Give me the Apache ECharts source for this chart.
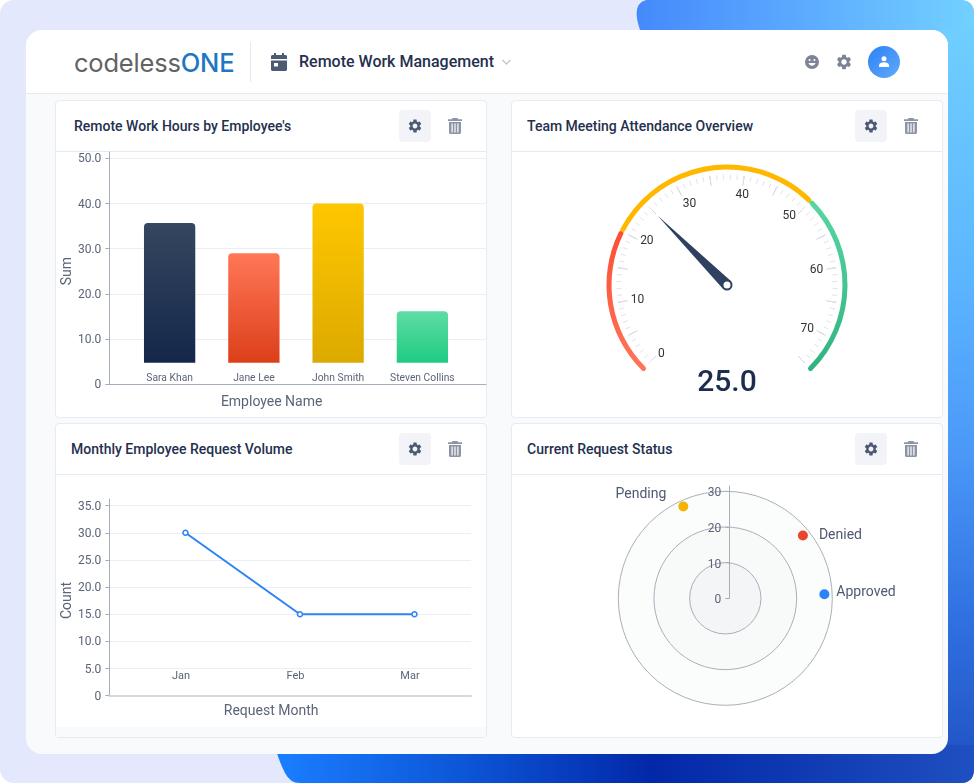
<!DOCTYPE html>
<html lang="en">
<head>
<meta charset="utf-8" />
<title>Remote Work Management</title>
<script src="https://cdn.jsdelivr.net/npm/echarts@6/dist/echarts.min.js"></script>
<style>
html,body{margin:0;padding:0;background:#fff;width:974px;height:783px;overflow:hidden;font-family:Roboto,sans-serif}
#bg{position:absolute;left:0;top:0;width:974px;height:783px;background:#e3e8fd;border-radius:14px}
#blob{position:absolute;left:0;top:0;width:974px;height:783px;
	clip-path:path('M646 0 L960 0 Q974 0 974 14 L974 769 Q974 783 960 783 L300 783 Q290 783 285 773 Q279 761 276 750 L500 400 L640 30 Q631 4 646 0 Z')}
#blobSide{position:absolute;left:930px;top:0;width:44px;height:783px;background:linear-gradient(180deg,#72d1ff 0%,#5cb6ff 35%,#4a98f8 58%,#2f6fe0 80%,#1f4fc0 100%)}
#blobTop{position:absolute;left:630px;top:0;width:344px;height:30px;background:linear-gradient(90deg,#4488fb 0%,#5eaeff 55%,#72d1ff 100%)}
#blobBottom{position:absolute;left:0;top:745px;width:974px;height:38px;background:linear-gradient(90deg,#1a7dff 29%,#0c55d6 48%,#0228a8 67%,#1f4fc0 100%)}
#card{position:absolute;left:26px;top:30px;width:922px;height:724px;background:#f9fafc;border-radius:16px;overflow:hidden}
#topbar{position:absolute;left:26px;top:30px;width:922px;height:63px;background:#fff;border-bottom:1px solid #e8eaf1;border-radius:16px 16px 0 0}
#logo{position:absolute;left:74px;top:46px;font-family:Inter,sans-serif;font-weight:400;font-size:25.5px;line-height:34px;color:#636363;letter-spacing:-.2px}
#logo b{font-weight:500;color:#1f77c3}
#divider{position:absolute;left:250px;top:42px;width:1px;height:40px;background:#e8eaf1}
#appTitle{position:absolute;left:299px;top:52px;font-size:16px;line-height:20px;font-weight:500;color:#24304e}
#avatar{position:absolute;left:868px;top:46px;width:32px;height:32px;border-radius:50%;background:linear-gradient(135deg,#2a82f6,#62a9fb)}
.panel{position:absolute;width:430px;background:#fff;border:1px solid #e8eaf1;border-radius:4px}
.panelHead{position:absolute;left:0;top:0;width:430px;height:50px;border-bottom:1px solid #e8eaf1}
.panelTitle{position:absolute;top:16px;font-size:14px;line-height:18px;font-weight:500;color:#24304e;white-space:nowrap}
.btn{position:absolute;left:343px;top:9px;width:32px;height:32px;background:#f3f4f8;border-radius:4px}
.icon{position:absolute}
.chart{position:absolute;left:-1px;top:-1px;width:432px;height:318px}
#footband{position:absolute;left:0;bottom:0;width:430px;height:10px;background:#f9fafc}
</style>
</head>
<body>
<svg width="0" height="0" style="position:absolute">
	<symbol id="gear" viewBox="0 0 24 24"><path d="M19.14 12.94c.04-.3.06-.61.06-.94 0-.32-.02-.64-.07-.94l2.03-1.58a.49.49 0 0 0 .12-.61l-1.92-3.32a.488.488 0 0 0-.59-.22l-2.39.96c-.5-.38-1.03-.7-1.62-.94l-.36-2.54a.484.484 0 0 0-.48-.41h-3.84c-.24 0-.43.17-.47.41l-.36 2.54c-.59.24-1.13.57-1.62.94l-2.39-.96c-.22-.08-.47 0-.59.22L2.74 8.87c-.12.21-.08.47.12.61l2.03 1.58c-.05.3-.09.63-.09.94s.02.64.07.94l-2.03 1.58a.49.49 0 0 0-.12.61l1.92 3.32c.12.22.37.29.59.22l2.39-.96c.5.38 1.03.7 1.62.94l.36 2.54c.05.24.24.41.48.41h3.84c.24 0 .44-.17.47-.41l.36-2.54c.59-.24 1.13-.56 1.62-.94l2.39.96c.22.08.47 0 .59-.22l1.92-3.32c.12-.22.07-.47-.12-.61l-2.01-1.58zM12 15.6c-1.98 0-3.6-1.62-3.6-3.6s1.62-3.6 3.6-3.6 3.6 1.62 3.6 3.6-1.62 3.6-3.6 3.6z"/></symbol>
	<symbol id="trash" viewBox="0 0 14 16"><path d="M4.5 0h5l.6 1.2H14v1.7H0V1.2h3.9zM1 4h12v10.5c0 .8-.7 1.5-1.5 1.5h-9C1.700 16 1 15.300 1 14.500zM3.500 5.500v9h1.200v-9zM6.400 5.500v9h1.200v-9zM9.300 5.500v9h1.200v-9z"/></symbol>
	<symbol id="calendar" viewBox="0 0 16 18"><path d="M3 0h2v2h6V0h2v2h1.500C15.300 2 16 2.700 16 3.500V6H0V3.500C0 2.700.7 2 1.500 2H3zM0 7.500h16v9c0 .8-.7 1.500-1.500 1.500h-13C.7 18 0 17.300 0 16.500zM3 10v3.500h4V10z"/></symbol>
	<symbol id="smile" viewBox="0 0 14 14"><path fill-rule="evenodd" d="M7 0a7 7 0 1 1 0 14A7 7 0 0 1 7 0zM4.600 3.900a1 1 0 1 0 0 2.100 1 1 0 0 0 0-2.100zM9.400 3.900a1 1 0 1 0 0 2.100 1 1 0 0 0 0-2.100zM3.500 8c.5 1.700 1.900 2.800 3.500 2.800S10 9.700 10.500 8z"/></symbol>
	<symbol id="user" viewBox="0 0 12 13"><circle cx="6" cy="3.200" r="3"/><path d="M0 13v-1.800C0 9 2.700 7.500 6 7.500s6 1.500 6 3.700V13z"/></symbol>
</svg>

<div id="bg"></div>
<div id="blob"><div id="blobSide"></div><div id="blobTop"></div><div id="blobBottom"></div></div>
<div id="card"></div>
<div id="topbar"></div>
<div id="logo">codeless<b>ONE</b></div>
<div id="divider"></div>
<svg class="icon" style="left:271px;top:53px;fill:#4d5a75" width="16" height="18"><use href="#calendar"/></svg>
<div id="appTitle">Remote Work Management</div>
<svg class="icon" style="left:501px;top:59px;fill:none;stroke:#c5c9d3;stroke-width:1.500" width="11" height="7"><path d="M1.500 1 5.500 5 9.500 1"/></svg>
<svg class="icon" style="left:805px;top:55px;fill:#7c8496" width="14" height="14"><use href="#smile"/></svg>
<svg class="icon" style="left:835px;top:53px;fill:#7c8496" width="18" height="18"><use href="#gear"/></svg>
<div id="avatar"></div>
<svg class="icon" style="left:879px;top:56px;fill:#fff" width="10" height="11"><use href="#user"/></svg>

<div class="panel" style="left:55px;top:100px;height:316px">
	<div class="panelHead"><div class="panelTitle" style="left:18px">Remote Work Hours by Employee's</div>
		<div class="btn"></div>
		<svg class="icon" style="left:351px;top:17px;fill:#4d5a75" width="16" height="16"><use href="#gear"/></svg>
		<svg class="icon" style="left:392px;top:17px;fill:#8d94a5" width="14" height="16"><use href="#trash"/></svg>
	</div>
	<div class="chart" id="barChart"></div>
</div>
<div class="panel" style="left:511px;top:100px;height:316px">
	<div class="panelHead"><div class="panelTitle" style="left:15px">Team Meeting Attendance Overview</div>
		<div class="btn"></div>
		<svg class="icon" style="left:351px;top:17px;fill:#4d5a75" width="16" height="16"><use href="#gear"/></svg>
		<svg class="icon" style="left:392px;top:17px;fill:#8d94a5" width="14" height="16"><use href="#trash"/></svg>
	</div>
	<div class="chart" id="gaugeChart"></div>
</div>
<div class="panel" style="left:55px;top:423px;height:313px">
	<div class="panelHead"><div class="panelTitle" style="left:15px">Monthly Employee Request Volume</div>
		<div class="btn"></div>
		<svg class="icon" style="left:351px;top:17px;fill:#4d5a75" width="16" height="16"><use href="#gear"/></svg>
		<svg class="icon" style="left:392px;top:17px;fill:#8d94a5" width="14" height="16"><use href="#trash"/></svg>
	</div>
	<div id="footband"></div>
	<div class="chart" id="lineChart"></div>
</div>
<div class="panel" style="left:511px;top:423px;height:313px">
	<div class="panelHead"><div class="panelTitle" style="left:15px">Current Request Status</div>
		<div class="btn"></div>
		<svg class="icon" style="left:351px;top:17px;fill:#4d5a75" width="16" height="16"><use href="#gear"/></svg>
		<svg class="icon" style="left:392px;top:17px;fill:#8d94a5" width="14" height="16"><use href="#trash"/></svg>
	</div>
	<div class="chart" id="polarChart"></div>
</div>

<script type="text/javascript">
	// values
	const employees = ['Sara Khan', 'Jane Lee', 'John Smith', 'Steven Collins'];
	const hours = [35.7, 29, 40, 16.2];
	const hoursTicks = [0, 10, 20, 30, 40, 50];

	const attendance = 25;
	const attendanceMax = 75;
	const attendanceBands = [0, 20, 50, 75];

	const months = ['Jan', 'Feb', 'Mar'];
	const requests = [30, 15, 15];
	const requestTicks = [0, 5, 10, 15, 20, 25, 30, 35];

	const statuses = ['Pending', 'Denied', 'Approved'];
	const statusCounts = [28.3, 28, 27.8];
	const statusAngles = [335.4, 51, 87.7];
	const statusTicks = [0, 10, 20, 30];

	const FONT = 'Roboto';
	const TEXT = '#5b6478';
	const grad = (a, b) => new echarts.graphic.LinearGradient(0, 0, 0, 1, [{offset: 0, color: a}, {offset: 1, color: b}]);
	const oneDecimal = v => v === 0 ? '0' : v.toFixed(1);
	const barColors = [grad('#35465f', '#14274a'), grad('#ff7757', '#dc3f1a'), grad('#ffc700', '#dcaa00'), grad('#5fdda4', '#1fcb82')];

	// bars sit on a raised baseline, their value axis starts above 0 on the same scale
	const barChart = echarts.init(document.getElementById('barChart'));
	barChart.setOption({
		animation: false,
		textStyle: {fontFamily: FONT},
		grid: [
			{left: 54.3, top: 52, width: 376.7, height: 232.3, outerBoundsMode: 'none'},
			{left: 72.5, top: 52, width: 337, height: 210.7, outerBoundsMode: 'none'}
		],
		xAxis: [
			{gridIndex: 0, type: 'value', min: 0, max: 1, axisLine: {onZero: false, lineStyle: {color: '#a5adbb'}},
				axisTick: {show: false}, axisLabel: {show: false}, splitLine: {show: false},
				name: 'Employee Name', nameLocation: 'middle', nameGap: 11,
				nameTextStyle: {fontSize: 14, color: TEXT, fontFamily: FONT, padding: [0, 52, 0, 0]}},
			{gridIndex: 1, type: 'category', data: employees, axisLine: {show: false},
				axisTick: {length: 3, lineStyle: {color: '#c9cdd6'}, customValues: employees.slice(1).map((_, i) => i + 0.5)},
				axisLabel: {margin: 11, fontSize: 10.3, color: TEXT, interval: 0}}
		],
		yAxis: [
			{gridIndex: 0, type: 'value', min: 0, max: 51.4,
				axisLine: {show: true, lineStyle: {color: '#a5adbb'}},
				axisTick: {show: true, length: 4, lineStyle: {color: '#a5adbb'}, customValues: hoursTicks},
				axisLabel: {fontSize: 12, color: TEXT, margin: 8, verticalAlign: 'top', lineHeight: 2, customValues: hoursTicks, formatter: oneDecimal},
				splitLine: {lineStyle: {color: '#eceef3'}, customValues: hoursTicks},
				name: 'Sum', nameLocation: 'middle', nameGap: 35, nameMoveOverlap: false,
				nameTextStyle: {fontSize: 14, color: TEXT, fontFamily: FONT, padding: [0, 6, 0, 0]}},
			{gridIndex: 1, type: 'value', min: 4.8, max: 51.4, show: false}
		],
		series: [{
			type: 'bar', xAxisIndex: 1, yAxisIndex: 1, barWidth: 51.3,
			data: hours.map((v, i) => ({value: v, itemStyle: {color: barColors[i], borderRadius: [4, 4, 0, 0]}}))
		}]
	});

	// each colour band is its own gauge arc so the round caps show at the joins
	const bandColors = [grad('#fb4f33', '#ff7459'), '#ffb700', grad('#58d6a2', '#2fb380')];
	const bandAngle = v => 225 - 270 * v / attendanceMax;
	const gaugeBase = {type: 'gauge', center: [216, 185], radius: 120.5};
	const gaugeChart = echarts.init(document.getElementById('gaugeChart'));
	gaugeChart.setOption({
		animation: false,
		textStyle: {fontFamily: FONT},
		series: bandColors.map((color, i) => Object.assign({}, gaugeBase, {
			startAngle: bandAngle(attendanceBands[i]) - (i ? 1 : 0),
			endAngle: bandAngle(attendanceBands[i + 1]) + (i < 2 ? 1 : 0),
			axisLine: {roundCap: true, lineStyle: {width: 5, color: [[1, color]]}},
			splitLine: {show: false}, axisTick: {show: false}, axisLabel: {show: false},
			pointer: {show: false}, title: {show: false}, detail: {show: false}, data: []
		})).concat([Object.assign({}, gaugeBase, {
			startAngle: 225, endAngle: -45,
			min: 0, max: attendanceMax, splitNumber: 15,
			axisLine: {lineStyle: {width: 5, color: [[1, 'transparent']]}},
			splitLine: {distance: 5, length: 10, lineStyle: {color: '#cdd1db', width: 1}},
			axisTick: {distance: 5, length: 5, splitNumber: 5, lineStyle: {color: '#e0e2e8', width: 1}},
			axisLabel: {distance: 8, fontSize: 12, color: '#333', fontFamily: FONT, formatter: v => v % 10 === 0 ? String(v) : ''},
			pointer: {icon: 'triangle', length: 98, width: 11, itemStyle: {color: '#2e4160'}},
			anchor: {show: true, showAbove: true, size: 9, itemStyle: {color: '#fff', borderColor: '#2e4160', borderWidth: 2}},
			title: {show: false},
			detail: {offsetCenter: [0, 98], fontSize: 30, fontWeight: 500, color: '#1c2d4f', fontFamily: FONT, formatter: v => v.toFixed(1)},
			data: [{value: attendance}]
		})])
	});

	// month labels and the line each get a grid, the points sit a little right of their labels
	const lineChart = echarts.init(document.getElementById('lineChart'));
	lineChart.setOption({
		animation: false,
		textStyle: {fontFamily: FONT},
		grid: [
			{left: 54.3, top: 76.3, width: 361.7, height: 196.4, outerBoundsMode: 'none'},
			{left: 68.7, top: 76.3, width: 343.5, height: 160.7, outerBoundsMode: 'none'},
			{left: 73.2, top: 76.3, width: 343.5, height: 160.7, outerBoundsMode: 'none'}
		],
		xAxis: [
			{gridIndex: 0, type: 'value', min: 0, max: 1, axisLine: {onZero: false, lineStyle: {color: '#d5d8df', width: 2}},
				axisTick: {show: false}, axisLabel: {show: false}, splitLine: {show: false},
				name: 'Request Month', nameLocation: 'middle', nameGap: 9,
				nameTextStyle: {fontSize: 14, color: TEXT, fontFamily: FONT, padding: [0, 38, 0, 0]}},
			{gridIndex: 1, type: 'category', data: months, axisLine: {show: false},
				axisTick: {length: 3, lineStyle: {color: '#c9cdd6'}, customValues: months.slice(1).map((_, i) => i + 0.5)},
				axisLabel: {margin: 11, fontSize: 11, color: TEXT}},
			{gridIndex: 2, type: 'category', data: months, show: false}
		],
		yAxis: [
			{gridIndex: 0, type: 'value', min: 0, max: 36.17,
				axisLine: {show: true, lineStyle: {color: '#a5adbb'}},
				axisTick: {show: true, length: 4, lineStyle: {color: '#a5adbb'}, customValues: requestTicks},
				axisLabel: {fontSize: 12, color: TEXT, margin: 8, verticalAlign: 'top', lineHeight: 2, customValues: requestTicks, formatter: oneDecimal},
				splitLine: {lineStyle: {color: '#eceef3'}, customValues: requestTicks},
				name: 'Count', nameLocation: 'middle', nameGap: 35, nameMoveOverlap: false,
				nameTextStyle: {fontSize: 14, color: TEXT, fontFamily: FONT, padding: [0, 6, 0, 0]}},
			{gridIndex: 1, type: 'value', min: 6.57, max: 36.17, show: false},
			{gridIndex: 2, type: 'value', min: 6.57, max: 36.17, show: false}
		],
		series: [{
			type: 'line', xAxisIndex: 2, yAxisIndex: 2, data: requests,
			symbol: 'circle', symbolSize: 5,
			lineStyle: {color: '#2b84f6', width: 2},
			itemStyle: {color: '#fff', borderColor: '#2b84f6', borderWidth: 1.5}
		}]
	});

	// the radius axis stands a few pixels right of the rings' centre, so it has its own polar
	const statusColors = ['#f5b400', '#e8452a', '#2b84f6'];
	const statusLabels = [
		{position: 'left', distance: 8, offset: [-4, -12]},
		{position: 'right', distance: 11, offset: [0, 0]},
		{position: 'right', distance: 7, offset: [0, -2]}
	];
	const hiddenRadius = {axisLine: {show: false}, axisTick: {show: false}, axisLabel: {show: false}};
	const polarChart = echarts.init(document.getElementById('polarChart'));
	polarChart.setOption({
		animation: false,
		textStyle: {fontFamily: FONT},
		polar: [
			{center: [214.3, 175.3], radius: 107},
			{center: [214.3, 175.3], radius: 107},
			{center: [218.3, 175.3], radius: 112.3}
		],
		angleAxis: [
			{polarIndex: 0, type: 'value', min: 0, max: 360, startAngle: 90, show: false},
			{polarIndex: 1, type: 'value', min: 0, max: 360, startAngle: 90, show: false},
			{polarIndex: 2, type: 'value', min: 0, max: 360, startAngle: 90, show: false}
		],
		radiusAxis: [
			Object.assign({polarIndex: 0, type: 'value', min: 0, max: 30, interval: 10, z: 0,
				splitLine: {show: false},
				splitArea: {show: true, areaStyle: {color: ['#f4f5f6', '#f8f9f9', '#fbfcfc']}}}, hiddenRadius),
			Object.assign({polarIndex: 1, type: 'value', min: 0, max: 30, interval: 10, z: 1,
				splitLine: {show: true, lineStyle: {color: '#a9aeb9'}}}, hiddenRadius),
			{polarIndex: 2, type: 'value', min: 0, max: 31.5, z: 2,
				axisLine: {show: true, lineStyle: {color: '#a9aeb9'}},
				axisTick: {show: true, length: 4, lineStyle: {color: '#a9aeb9'}, customValues: statusTicks},
				axisLabel: {fontSize: 12, color: TEXT, margin: 8, verticalAlign: 'top', lineHeight: 4, customValues: statusTicks},
				splitLine: {show: false}}
		],
		series: [{
			type: 'scatter', coordinateSystem: 'polar', polarIndex: 0, symbolSize: 10, z: 5,
			data: statuses.map((name, i) => ({
				name: name,
				value: [statusCounts[i], statusAngles[i]],
				itemStyle: {color: statusColors[i], opacity: 1},
				label: Object.assign({show: true, formatter: '{b}', fontSize: 14, color: '#4f5970', opacity: 1, fontFamily: FONT}, statusLabels[i])
			}))
		}]
	});
</script>
</body>
</html>
